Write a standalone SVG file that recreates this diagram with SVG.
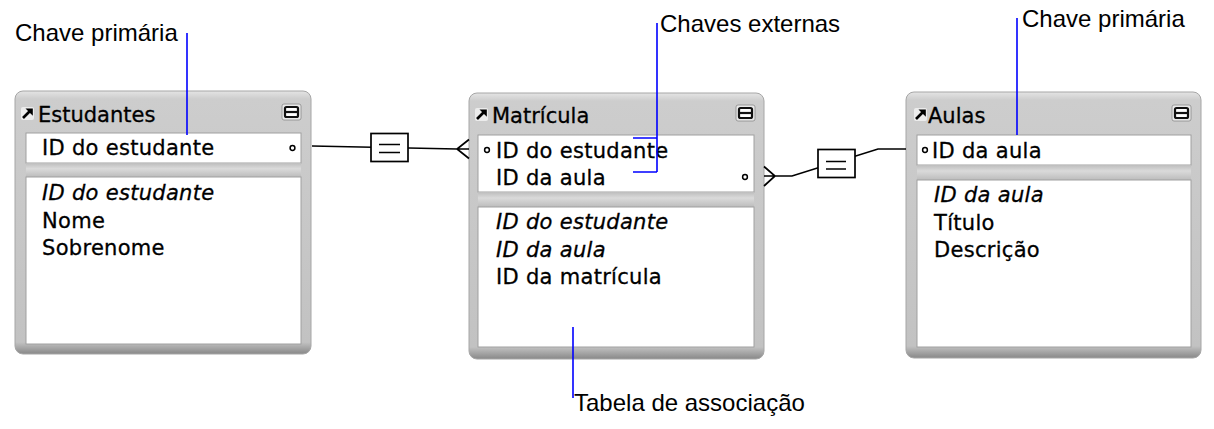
<svg xmlns="http://www.w3.org/2000/svg" width="1214" height="429" viewBox="0 0 1214 429">
<defs>
<linearGradient id="frameGrad" x1="0" y1="0" x2="0" y2="1">
 <stop offset="0" stop-color="#e4e4e4"/>
 <stop offset="0.03" stop-color="#cdcdcd"/>
 <stop offset="0.955" stop-color="#c2c2c2"/>
 <stop offset="1" stop-color="#888888"/>
</linearGradient>
<linearGradient id="sepGrad" x1="0" y1="0" x2="0" y2="1">
 <stop offset="0" stop-color="#bdbdbd"/>
 <stop offset="0.4" stop-color="#dadada"/>
 <stop offset="1" stop-color="#bcbcbc"/>
</linearGradient>
<g id="icon">
 <rect x="0" y="0" width="13" height="13" rx="2" fill="#ececec"/>
 <path d="M2,11 L8.5,4.5" stroke="#000" stroke-width="2.6" fill="none"/>
 <polygon points="4.5,1.5 11.8,1.5 11.8,8.8" fill="#000"/>
</g>
<g id="btn">
 <rect x="0" y="0" width="19" height="16" rx="2" fill="#e8e8e8" stroke="#8a8a8a" stroke-width="0.8"/>
 <rect x="3" y="3" width="13" height="10" rx="1.5" fill="#fff" stroke="#111" stroke-width="2.2"/>
 <path d="M3,8 H16" stroke="#111" stroke-width="2.2"/>
</g>
</defs>
<style>
.frame{fill:url(#frameGrad);stroke:#a6a6a6;stroke-width:1}
.well{fill:#fff;stroke:#a0a0a0;stroke-width:1}
.sep{fill:url(#sepGrad)}
.t{font-family:"DejaVu Sans",sans-serif;font-size:21px;fill:#000;stroke:#000;stroke-width:0.3px;letter-spacing:0.3px}
.title{font-family:"DejaVu Sans",sans-serif;font-size:21px;fill:#000;stroke:#000;stroke-width:0.3px}
.i{font-style:italic}
.dot{fill:#fff;stroke:#000;stroke-width:1.5}
.conn{fill:none;stroke:#000;stroke-width:1.7}
.rel{fill:#fff;stroke:#000;stroke-width:1.7}
.ann{stroke:#0000ff;stroke-width:1.6;fill:none}
.lbl{font-family:"Liberation Sans",Arial,sans-serif;font-size:24px;fill:#000}
</style>
<rect width="1214" height="429" fill="#fff"/>

<g id="estudantes">
 <rect class="frame" x="15" y="91" width="296" height="263" rx="8"/>
 <rect class="well" x="26" y="133" width="275" height="30"/>
 <rect class="sep" x="26" y="163" width="275" height="14"/>
 <rect class="well" x="26" y="177" width="275" height="167"/>
 <use href="#icon" transform="translate(21,107)"/>
 <text class="title" x="38" y="122">Estudantes</text>
 <use href="#btn" transform="translate(282,104)"/>
 <text class="t" x="42" y="155">ID do estudante</text>
 <circle class="dot" cx="292.5" cy="148" r="2.4"/>
 <text class="t i" x="42" y="200">ID do estudante</text>
 <text class="t" x="42" y="227.5">Nome</text>
 <text class="t" x="42" y="255">Sobrenome</text>
</g>

<g id="matricula">
 <rect class="frame" x="469" y="93" width="295" height="266" rx="8"/>
 <rect class="well" x="478" y="135" width="276" height="57"/>
 <rect class="sep" x="478" y="192" width="276" height="15"/>
 <rect class="well" x="478" y="207" width="276" height="140"/>
 <use href="#icon" transform="translate(475,108)"/>
 <text class="title" x="492" y="123">Matrícula</text>
 <use href="#btn" transform="translate(736,105)"/>
 <circle class="dot" cx="487" cy="150" r="2.4"/>
 <text class="t" x="496" y="158">ID do estudante</text>
 <text class="t" x="496" y="185">ID da aula</text>
 <circle class="dot" cx="745" cy="177" r="2.4"/>
 <text class="t i" x="496" y="229">ID do estudante</text>
 <text class="t i" x="496" y="256.5">ID da aula</text>
 <text class="t" x="496" y="284">ID da matrícula</text>
</g>

<g id="aulas">
 <rect class="frame" x="906" y="92" width="295" height="266" rx="8"/>
 <rect class="well" x="917" y="135" width="274" height="30"/>
 <rect class="sep" x="917" y="165" width="274" height="15"/>
 <rect class="well" x="917" y="180" width="274" height="167"/>
 <use href="#icon" transform="translate(914,108)"/>
 <text class="title" x="928" y="123">Aulas</text>
 <use href="#btn" transform="translate(1172,105)"/>
 <circle class="dot" cx="925" cy="150" r="2.4"/>
 <text class="t" x="932" y="158">ID da aula</text>
 <text class="t i" x="934" y="202">ID da aula</text>
 <text class="t" x="934" y="230">Título</text>
 <text class="t" x="934" y="257">Descrição</text>
</g>

<g id="connectors">
 <path class="conn" d="M312,146 L457,149 L469,149 M469,139.5 L457,149 L469,158.5"/>
 <rect class="rel" x="371" y="133.5" width="37" height="28"/>
 <path class="conn" d="M379,144.5 H400 M379,152.5 H400"/>
 <path class="conn" d="M764,176 H792 L878,149 H906 M764,166.5 L775,176 L764,186"/>
 <rect class="rel" x="818" y="149.5" width="37" height="28"/>
 <path class="conn" d="M826,161.5 H846 M826,169 H846"/>
</g>

<g id="annotations">
 <path class="ann" d="M187,33 V135"/>
 <text class="lbl" x="15" y="41">Chave primária</text>
 <path class="ann" d="M657,23 V172 M633,138 H657 M633,172 H657"/>
 <text class="lbl" x="660" y="32">Chaves externas</text>
 <path class="ann" d="M1017,18 V135"/>
 <text class="lbl" x="1022" y="27">Chave primária</text>
 <path class="ann" d="M573,327 V398"/>
 <text class="lbl" x="574" y="411">Tabela de associação</text>
</g>
</svg>
